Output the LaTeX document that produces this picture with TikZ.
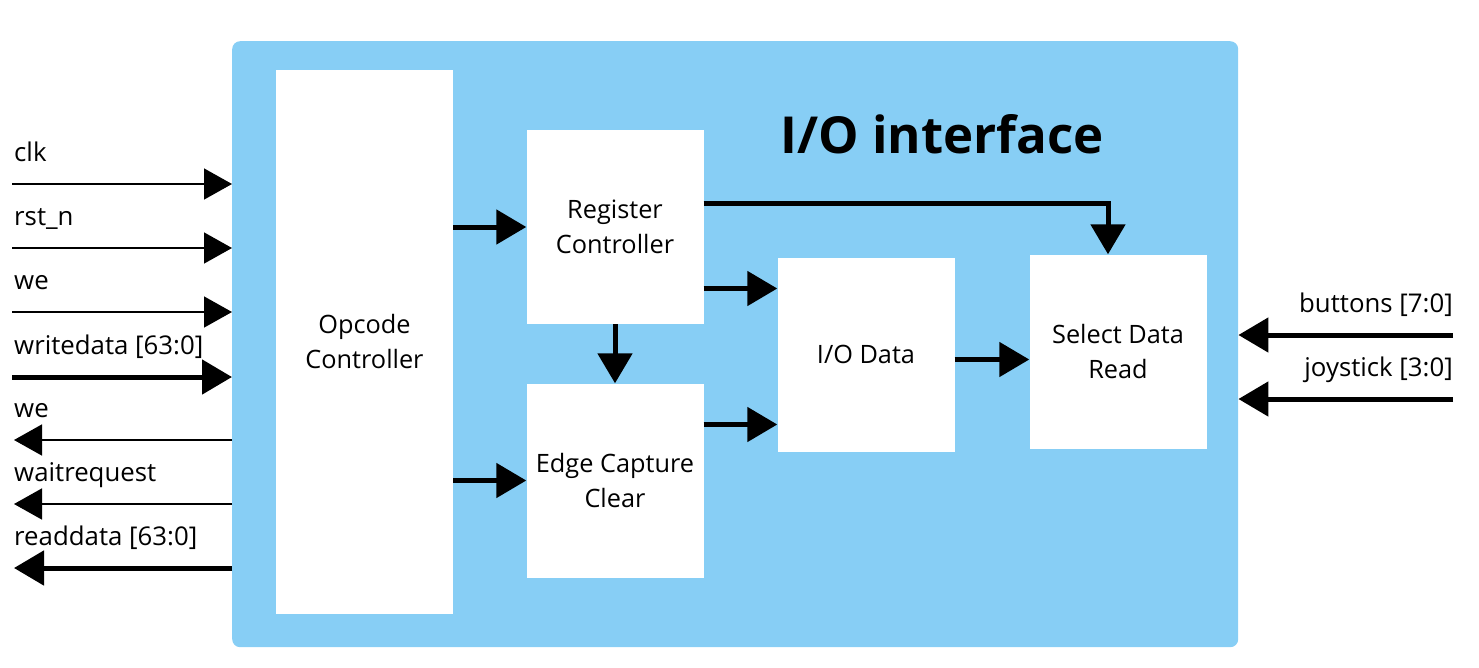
\documentclass[tikz,border=0pt]{standalone}
\usepackage{fontspec}
\setmainfont{Open Sans}
\usetikzlibrary{arrows.meta,calc}
\definecolor{ioblue}{RGB}{135,206,245}
\tikzset{
  blockbox/.style={fill=white, minimum width=177pt, minimum height=194pt,
    align=center, inner sep=0pt, font=\fontsize{25.3}{35}\selectfont},
  sig/.style={line width=1.5pt, -{Triangle[length=28pt,width=31pt]}},
  bus/.style={line width=5pt, -{Triangle[length=30pt,width=34pt]}},
  siglabel/.style={font=\fontsize{25.8}{30}\selectfont, inner sep=0pt}
}
\begin{document}
\begin{tikzpicture}[x=1pt,y=-1pt]
  \useasboundingbox (0,0) rectangle (1479,667);
  % interface frame and blocks
  \node[fill=ioblue, rounded corners=8pt, minimum width=1006pt, minimum height=606pt,
    inner sep=0pt, anchor=north west] (iobox) at (232,41) {};
  \node[font=\fontsize{51}{60}\selectfont\bfseries] (title) at (942,134) {I/O interface};
  \node[blockbox, minimum height=544pt] (opcode) at (364.5,342) {Opcode\\Controller};
  \node[blockbox] (reg) at (615,227) {Register\\Controller};
  \node[blockbox] (edge) at (615,480.5) {Edge Capture\\Clear};
  \node[blockbox] (iodata) at (866,354.5) {I/O Data};
  \node[blockbox] (select) at (1118,351.5) {Select Data\\Read};
  % internal connections
  \draw[bus] (reg.west -| opcode.east) -- (reg.west);
  \draw[bus] (edge.west -| opcode.east) -- (edge.west);
  \draw[bus] (reg.south) -- (edge.north);
  \coordinate (io in1) at ($(iodata.west)+(0,-66)$);
  \coordinate (io in2) at ($(iodata.west)+(0,70)$);
  \draw[bus] (reg.east |- io in1) -- (io in1);
  \draw[bus] (edge.east |- io in2) -- (io in2);
  \draw[bus] ($(iodata.east)+(0,5)$) -- ($(select.west)+(0,8)$);
  \draw[bus] ($(reg.east)+(0,-24)$) -| ($(select.north)+(-10,0)$);
  % inputs on the left
  \foreach \y/\txt [count=\i] in {184/clk, 248/rst\_n, 312/we} {
    \coordinate (in\i) at (12,\y);
    \draw[sig] (in\i) -- (in\i -| iobox.west);
    \node[siglabel, anchor=base west] at (14,\y-23) {\txt};
  }
  \coordinate (wdata) at (12,377);
  \draw[bus] (wdata) -- (wdata -| iobox.west);
  \node[siglabel, anchor=base west] at (14,354) {writedata [63:0]};
  % outputs on the left
  \foreach \y/\txt [count=\i] in {440/we, 504/waitrequest} {
    \coordinate (out\i) at (14,\y);
    \draw[sig] (out\i -| iobox.west) -- (out\i);
    \node[siglabel, anchor=base west] at (14,\y-23) {\txt};
  }
  \coordinate (rdata) at (14,568);
  \draw[bus] (rdata -| iobox.west) -- (rdata);
  \node[siglabel, anchor=base west] at (14,545) {readdata [63:0]};
  % inputs on the right
  \foreach \y/\txt [count=\i] in {335/buttons [7:0], 399/joystick [3:0]} {
    \coordinate (rin\i) at (1453,\y);
    \draw[bus] (rin\i) -- (rin\i -| iobox.east);
    \node[siglabel, anchor=base east] at (1453,\y-23) {\txt};
  }
\end{tikzpicture}
\end{document}
